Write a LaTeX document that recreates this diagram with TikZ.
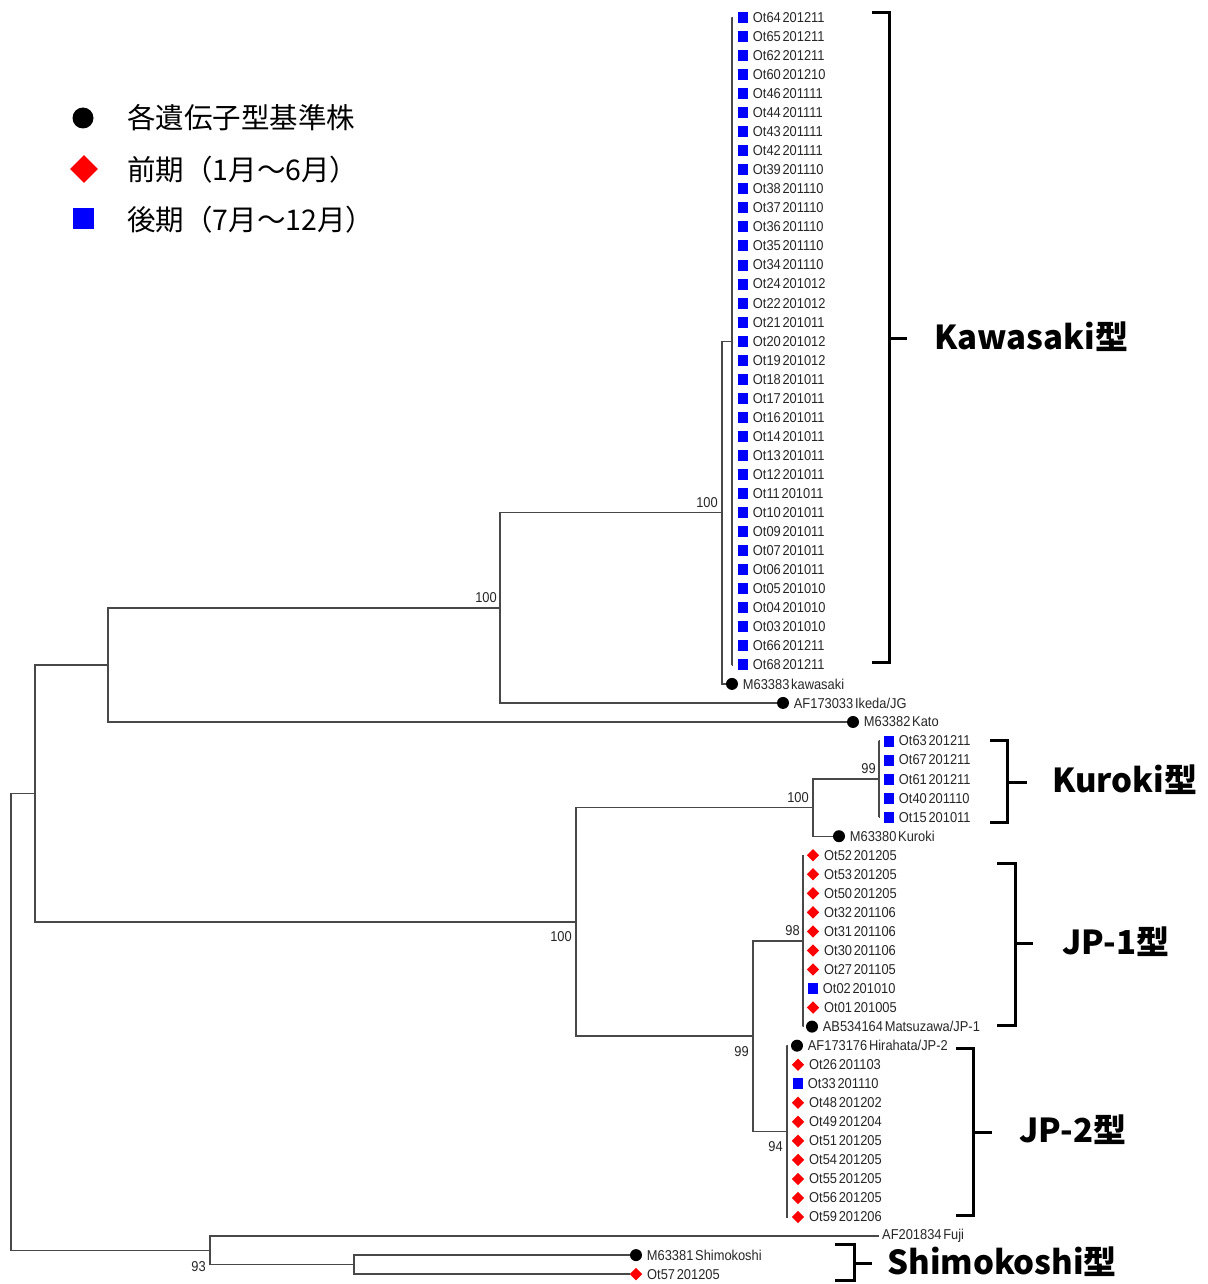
\documentclass[tikz,border=0pt]{standalone}
\usepackage{fontspec}
\usetikzlibrary{shapes.geometric}
\newfontfamily\leaffont{Liberation Sans}[FakeStretch=0.9,WordSpace=0.5]
\newfontfamily\jpfont{Noto Sans CJK JP}
\definecolor{sqblue}{RGB}{0,0,255}
\definecolor{dmred}{RGB}{255,0,0}
\definecolor{treegray}{RGB}{72,72,72}
\tikzset{
 sq/.style={rectangle, fill=sqblue, minimum width=10pt, minimum height=11pt, inner sep=0pt},
 dm/.style={diamond, fill=dmred, minimum width=12.5pt, minimum height=12.5pt, inner sep=0pt},
 dt/.style={circle, fill=black, minimum size=12pt, inner sep=0pt},
 lab/.style={anchor=west, inner sep=0pt, text=black!85, font=\leaffont\fontsize{14.3}{16}\selectfont},
 bs/.style={inner sep=0pt, text=black!85, font=\leaffont\fontsize{14.3}{16}\selectfont},
 br/.style={draw=treegray, line width=1.4pt},
 brk/.style={draw=black, line width=3pt, line join=miter},
 grp/.style={anchor=west, inner sep=0pt, font=\jpfont\bfseries\fontsize{33}{38}\selectfont},
 leg/.style={anchor=west, inner sep=0pt, font=\jpfont\fontsize{28.5}{32}\selectfont},
}
\newcommand\leafnode[5]{%
  \pgfmathsetmacro\lfy{17.5+19.04*#2}%
  \node[#4] (#1) at (#3,\lfy) {};%
  \node[lab] (#1t) at ([xshift=4.5pt]#1.east) {#5};%
}
\begin{document}
\begin{tikzpicture}[x=1pt,y=-1pt]
\useasboundingbox (0,0) rectangle (1207,1284);

% ---------- legend ----------
\node[dt, minimum size=21pt] (lgA) at (83,118) {};
\node[leg] (lgAt) at (127,118) {各遺伝子型基準株};
\node[dm, minimum width=28pt, minimum height=28pt] (lgB) at (84,169) {};
\node[leg] (lgBt) at (127,170) {前期（1月～6月）};
\node[sq, minimum width=21pt, minimum height=21pt] (lgC) at (83,218) {};
\node[leg] (lgCt) at (127,220) {後期（7月～12月）};

% ---------- internal nodes ----------
\coordinate (nE) at (732,341.2);
\coordinate (nD) at (722,512.6);
\coordinate (nC) at (500,607.8);
\coordinate (nB) at (108,664.9);
\coordinate (nF) at (879,779.1);
\coordinate (nG) at (813,807.7);
\coordinate (nI) at (803,940.9);
\coordinate (nK) at (787,1131.4);
\coordinate (nJ) at (753,1036.1);
\coordinate (nH) at (576,921.9);
\coordinate (nA) at (35,793.4);
\coordinate (nM) at (354,1264.6);
\coordinate (nL) at (210,1250.3);
\coordinate (nR) at (11,1021.9);

% ---------- leaves ----------
\foreach \t [count=\i from 0] in {Ot64 201211,Ot65 201211,Ot62 201211,Ot60 201210,Ot46 201111,Ot44 201111,Ot43 201111,Ot42 201111,Ot39 201110,Ot38 201110,Ot37 201110,Ot36 201110,Ot35 201110,Ot34 201110,Ot24 201012,Ot22 201012,Ot21 201011,Ot20 201012,Ot19 201012,Ot18 201011,Ot17 201011,Ot16 201011,Ot14 201011,Ot13 201011,Ot12 201011,Ot11 201011,Ot10 201011,Ot09 201011,Ot07 201011,Ot06 201011,Ot05 201010,Ot04 201010,Ot03 201010,Ot66 201211,Ot68 201211}
  {\leafnode{k\i}{\i}{743}{sq}{\t}}
\leafnode{kawa}{35}{732}{dt}{M63383 kawasaki}
\leafnode{ikeda}{36}{783}{dt}{AF173033 Ikeda/JG}
\leafnode{kato}{37}{853}{dt}{M63382 Kato}
\foreach \t [count=\i from 0] in {Ot63 201211,Ot67 201211,Ot61 201211,Ot40 201110,Ot15 201011}
  {\pgfmathtruncatemacro\ii{38+\i}\leafnode{ku\i}{\ii}{889}{sq}{\t}}
\leafnode{kuroki}{43}{839}{dt}{M63380 Kuroki}
\foreach \t/\s [count=\i from 0] in {Ot52 201205/dm,Ot53 201205/dm,Ot50 201205/dm,Ot32 201106/dm,Ot31 201106/dm,Ot30 201106/dm,Ot27 201105/dm,Ot02 201010/sq,Ot01 201005/dm}
  {\pgfmathtruncatemacro\ii{44+\i}\leafnode{ja\i}{\ii}{813}{\s}{\t}}
\leafnode{matsu}{53}{812}{dt}{AB534164 Matsuzawa/JP-1}
\leafnode{hira}{54}{797}{dt}{AF173176 Hirahata/JP-2}
\foreach \t/\s [count=\i from 0] in {Ot26 201103/dm,Ot33 201110/sq,Ot48 201202/dm,Ot49 201204/dm,Ot51 201205/dm,Ot54 201205/dm,Ot55 201205/dm,Ot56 201205/dm,Ot59 201206/dm}
  {\pgfmathtruncatemacro\ii{55+\i}\leafnode{jb\i}{\ii}{798}{\s}{\t}}
\coordinate (fuji) at (879,1236.1);
\node[lab] (fujit) at ([xshift=3pt]fuji) {AF201834 Fuji};
\leafnode{shimo}{65}{636}{dt}{M63381 Shimokoshi}
\leafnode{ot57}{66}{636}{dm}{Ot57 201205}

% ---------- branches ----------
\draw[br] (nR) |- (nA);
\draw[br] (nR) |- (nL);
\draw[br] (nA) |- (nB);
\draw[br] (nA) |- (nH);
\draw[br] (nB) |- (nC);
\draw[br] (nB) |- (kato.west);
\draw[br] (nC) |- (nD);
\draw[br] (nC) |- (ikeda.west);
\draw[br] (nD) |- (nE);
\draw[br] (nD) |- (kawa.west);
\foreach \i in {0,...,34} \draw[br, shorten >=6pt] (nE) |- (k\i.west);
\draw[br] (nH) |- (nG);
\draw[br] (nH) |- (nJ);
\draw[br] (nG) |- (nF);
\draw[br] (nG) |- (kuroki.west);
\foreach \i in {0,...,4} \draw[br, shorten >=5pt] (nF) |- (ku\i.west);
\draw[br] (nJ) |- (nI);
\draw[br] (nJ) |- (nK);
\foreach \i in {0,...,8} \draw[br, shorten >=3.5pt] (nI) |- (ja\i.west);
\draw[br, shorten >=3pt] (nI) |- (matsu.west);
\draw[br, shorten >=4pt] (nK) |- (hira.west);
\foreach \i in {0,...,8} \draw[br, shorten >=4.5pt] (nK) |- (jb\i.west);
\draw[br] (nL) |- (fuji);
\draw[br] (nL) |- (nM);
\draw[br] (nM) |- (shimo.west);
\draw[br] (nM) |- (ot57.west);

% ---------- bootstrap values ----------
\node[bs, anchor=south east] (bC) at (497,603) {100};
\node[bs, anchor=south east] (bD) at (718,508) {100};
\node[bs, anchor=south east] (bF) at (876,774) {99};
\node[bs, anchor=south east] (bG) at (809,803) {100};
\node[bs, anchor=south east] (bI) at (800,936) {98};
\node[bs, anchor=north east] (bH) at (572,931) {100};
\node[bs, anchor=north east] (bJ) at (749,1046) {99};
\node[bs, anchor=north east] (bK) at (783,1141) {94};
\node[bs, anchor=north east] (bL) at (206,1261) {93};

% ---------- group brackets ----------
\draw[brk] (872,13) -- (889,13) -- (889,662) -- (872,662);
\draw[brk] (889,338) -- (907,338);
\node[grp] (gKa) at (934,337) {Kawasaki型};

\draw[brk] (990,740) -- (1007,740) -- (1007,822) -- (990,822);
\draw[brk] (1007,782) -- (1027,782);
\node[grp] (gKu) at (1052,780) {Kuroki型};

\draw[brk] (997,863) -- (1015,863) -- (1015,1025) -- (997,1025);
\draw[brk] (1015,943) -- (1033,943);
\node[grp] (gJ1) at (1062,942) {JP-1型};

\draw[brk] (956,1048) -- (973,1048) -- (973,1215) -- (956,1215);
\draw[brk] (973,1132) -- (992,1132);
\node[grp] (gJ2) at (1019,1130) {JP-2型};

\draw[brk] (835,1244) -- (854,1244) -- (854,1280) -- (835,1280);
\draw[brk] (854,1263) -- (872,1263);
\node[grp] (gSh) at (887,1262) {Shimokoshi型};
\end{tikzpicture}
\end{document}
